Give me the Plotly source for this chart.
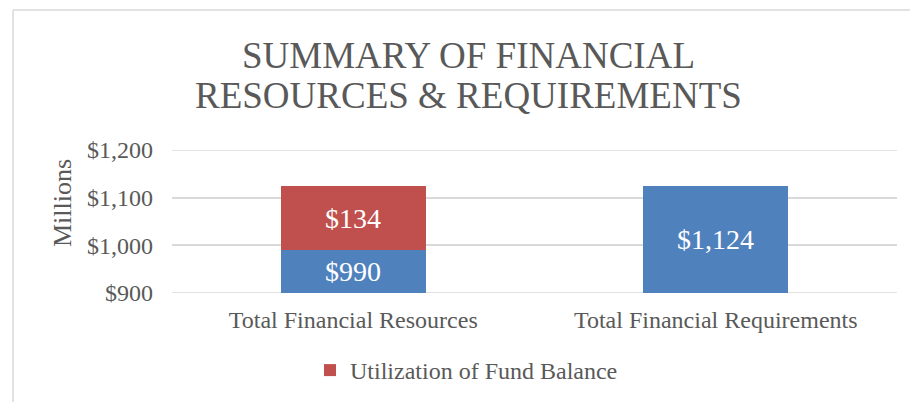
import plotly.graph_objects as go

categories = ["Total Financial Resources", "Total Financial Requirements"]
base_values = [990, 1124]          # blue
fund_balance = [134, None]         # red (Utilization of Fund Balance)
y_tick_vals = [900, 1000, 1100, 1200]
y_tick_text = ["$900", "$1,000", "$1,100", "$1,200"]
y_range = [900, 1200]

BLUE = "#4F81BD"
RED = "#C0504D"
GRAY = "#595959"
GRID = "#D9D9D9"
FONT = "Liberation Serif, Times New Roman, serif"

W, H = 910, 402
L, R, T, B = 172, 13, 150, 109
PW, PH = W - L - R, H - T - B

def px_x(px):
    return (px - L) / PW

def px_y(py):
    return (H - B - py) / PH

fig = go.Figure()
fig.add_trace(go.Bar(x=categories, y=base_values, marker=dict(color=BLUE, line=dict(width=0)),
                     showlegend=False, name="Base", hoverinfo="skip"))
fig.add_trace(go.Bar(x=categories, y=fund_balance, marker=dict(color=RED, line=dict(width=0)),
                     showlegend=True, name="Utilization of Fund Balance", hoverinfo="skip"))

def fmt(v):
    return "${:,.0f}".format(v)

annotations = []
# data labels centred in the visible part of each segment
for cat, b, f in zip(categories, base_values, fund_balance):
    lo = max(0, y_range[0])
    annotations.append(dict(x=cat, y=(lo + b) / 2, xref="x", yref="y", text=fmt(b),
                            showarrow=False, font=dict(family=FONT, size=28, color="white")))
    if f is not None:
        annotations.append(dict(x=cat, y=b + f / 2, xref="x", yref="y", text=fmt(f),
                                showarrow=False, font=dict(family=FONT, size=28, color="white")))

# title lines
annotations.append(dict(x=px_x(468), y=px_y(55), xref="paper", yref="paper",
                        text="SUMMARY OF FINANCIAL", showarrow=False, xanchor="center", yanchor="middle",
                        font=dict(family=FONT, size=37, color=GRAY)))
annotations.append(dict(x=px_x(468), y=px_y(96), xref="paper", yref="paper",
                        text="RESOURCES &amp; REQUIREMENTS", showarrow=False, xanchor="center", yanchor="middle",
                        font=dict(family=FONT, size=37, color=GRAY)))
# y axis title
annotations.append(dict(x=px_x(62), y=px_y(203), xref="paper", yref="paper", text="Millions",
                        showarrow=False, textangle=-90, xanchor="center", yanchor="middle",
                        font=dict(family=FONT, size=26, color=GRAY)))

# chart-area border (top and left edges visible)
shapes = [
    dict(type="line", xref="paper", yref="paper", x0=px_x(13), x1=px_x(910), y0=px_y(10), y1=px_y(10),
         line=dict(color=GRID, width=1.5)),
    dict(type="line", xref="paper", yref="paper", x0=px_x(13), x1=px_x(13), y0=px_y(10), y1=px_y(402),
         line=dict(color=GRID, width=1.5)),
]
# gridlines at the range ends (plotly clips those from its own grid)
for v in (y_tick_vals[0], y_tick_vals[-1]):
    shapes.append(dict(type="line", xref="paper", yref="y", x0=0, x1=1, y0=v, y1=v,
                       layer="below", line=dict(color=GRID, width=1.5)))

fig.update_layout(
    width=W, height=H,
    margin=dict(l=L, r=R, t=T, b=B, autoexpand=False),
    paper_bgcolor="white", plot_bgcolor="white",
    barmode="stack", bargap=0.6,
    annotations=annotations, shapes=shapes,
    font=dict(family=FONT, color=GRAY, size=24),
    legend=dict(x=px_x(310), y=px_y(348), xanchor="left", yanchor="top",
                font=dict(family=FONT, size=24, color=GRAY), bgcolor="rgba(0,0,0,0)"),
    showlegend=True,
)
fig.update_xaxes(showgrid=False, showline=False, ticks="", ticklabelstandoff=10, automargin=False,
                 tickfont=dict(family=FONT, size=24, color=GRAY))
fig.update_yaxes(range=y_range, tickvals=y_tick_vals, ticktext=y_tick_text, automargin=False,
                 showgrid=True, gridcolor=GRID, gridwidth=1.5, zeroline=False, showline=False,
                 ticks="", ticklabelstandoff=18, tickfont=dict(family=FONT, size=24, color=GRAY))

fig.write_html("out.html", config={"displayModeBar": False},
               post_script="document.body.style.margin='0';")
